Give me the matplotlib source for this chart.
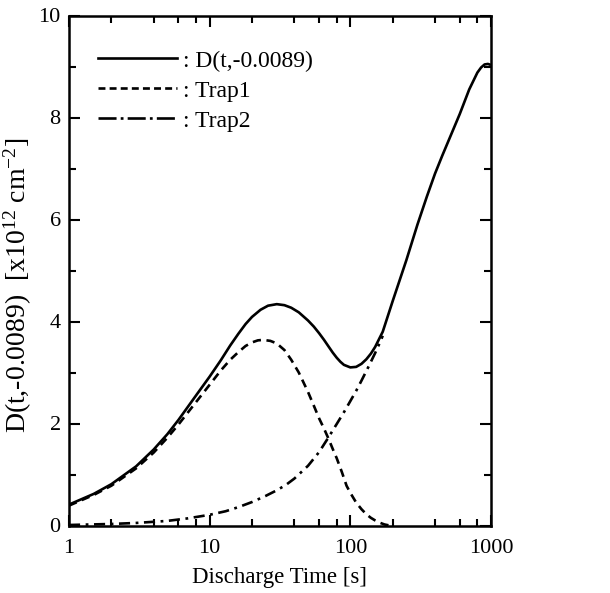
import matplotlib
matplotlib.use("Agg")
import matplotlib.pyplot as plt
from matplotlib.lines import Line2D
from matplotlib.ticker import FixedLocator, NullFormatter

plt.rcParams['font.family'] = ['Liberation Serif', 'DejaVu Serif']
plt.rcParams['mathtext.fontset'] = 'custom'
plt.rcParams['mathtext.rm'] = 'Liberation Serif'
plt.rcParams['mathtext.it'] = 'Liberation Serif:italic'
plt.rcParams['lines.scale_dashes'] = False

# ---- data ----
t_total = [1, 1.5, 2, 3, 4, 5, 6, 8, 10, 12, 14, 16, 18, 20, 23, 26, 30, 34, 38, 43,
           50, 55, 60, 65, 70, 75, 80, 85, 90, 100, 110, 120, 130, 140, 150, 170, 200,
           250, 300, 350, 400, 450, 500, 600, 700, 800, 850, 900, 950, 1000]
d_total = [0.41, 0.62, 0.81, 1.16, 1.49, 1.79, 2.07, 2.55, 2.92, 3.24, 3.53, 3.76, 3.95,
           4.09, 4.23, 4.31, 4.34, 4.32, 4.27, 4.18, 4.02, 3.90, 3.77, 3.64, 3.51, 3.39,
           3.29, 3.21, 3.15, 3.10, 3.11, 3.17, 3.26, 3.37, 3.50, 3.80, 4.40, 5.20, 5.90,
           6.45, 6.90, 7.25, 7.55, 8.07, 8.55, 8.88, 8.98, 9.04, 9.05, 9.03]

t_trap1 = [1, 1.5, 2, 3, 4, 5, 6, 8, 10, 12, 14, 16, 18, 20, 22, 24, 27, 30, 34, 38,
           43, 50, 55, 60, 65, 70, 75, 80, 87, 94, 100, 110, 120, 130, 140, 150, 160,
           175, 190, 200]
d_trap1 = [0.39, 0.60, 0.78, 1.12, 1.43, 1.72, 1.98, 2.42, 2.76, 3.04, 3.25, 3.40, 3.52,
           3.59, 3.63, 3.64, 3.62, 3.57, 3.44, 3.25, 3.00, 2.62, 2.35, 2.10, 1.90, 1.70,
           1.50, 1.32, 1.05, 0.78, 0.64, 0.45, 0.32, 0.22, 0.15, 0.10, 0.06, 0.02, 0.0, 0.0]

t_trap2 = [1, 2, 3, 5, 7, 10, 13, 16, 20, 25, 30, 35, 40, 50, 60, 70, 80, 90, 100, 110,
           120, 135, 150, 163, 170]
d_trap2 = [0.01, 0.03, 0.05, 0.09, 0.14, 0.21, 0.28, 0.36, 0.46, 0.58, 0.69, 0.80, 0.92,
           1.17, 1.44, 1.73, 1.99, 2.22, 2.44, 2.64, 2.84, 3.12, 3.38, 3.60, 3.72]

labels = [': D(t,-0.0089)', ': Trap1', ': Trap2']
xticks = [1, 10, 100, 1000]
xtick_labels = ['1', '10', '100', '1000']
yticks = [0, 2, 4, 6, 8, 10]

fig = plt.figure(figsize=(6.10, 5.93), dpi=100)
ax = fig.add_axes([69/610, 1-525.5/593, 422/610, 510/593])

lw = 1.9
ax.plot(t_total, d_total, color='black', lw=lw, solid_capstyle='butt')
ax.plot(t_trap1, d_trap1, color='black', lw=lw, linestyle=(0, (6, 4)))
ax.plot(t_trap2, d_trap2, color='black', lw=lw, linestyle=(0, (8, 4, 2, 4)))

ax.set_xscale('log')
ax.set_xlim(1, 1000)
ax.set_ylim(0, 10)
ax.xaxis.set_major_locator(FixedLocator(xticks))
ax.set_xticklabels(xtick_labels)
minors = [m * 10**e for e in range(0, 3) for m in (2, 4, 6, 8)]
ax.xaxis.set_minor_locator(FixedLocator(minors))
ax.xaxis.set_minor_formatter(NullFormatter())
ax.set_yticks(yticks)
ax.set_yticks([1, 3, 5, 7, 9], minor=True)

ax.tick_params(which='both', direction='in', top=True, right=True, labelsize=16, width=1.5)
ax.tick_params(which='major', length=8)
ax.tick_params(axis='x', which='major', pad=10)
ax.tick_params(axis='y', which='major', pad=6)
ax.tick_params(which='minor', length=5)
for s in ax.spines.values():
    s.set_linewidth(1.8)

ax.set_xlabel('Discharge Time [s]', fontsize=16.5, labelpad=6)
ax.set_ylabel(r'D(t,-0.0089)  [x10$^{12}$ cm$^{-2}$]', fontsize=20)
ax.yaxis.set_label_coords(-0.083, 0.47)

handles = [
    Line2D([], [], color='black', lw=lw),
    Line2D([], [], color='black', lw=lw, linestyle=(0, (5, 3))),
    Line2D([], [], color='black', lw=lw, linestyle=(0, (13, 3, 2, 3))),
]
ax.legend(handles, labels, loc='upper left', bbox_to_anchor=(0.069, 0.932),
          frameon=False, fontsize=17, handlelength=3.35, handletextpad=0.25,
          labelspacing=0.36, borderpad=0, borderaxespad=0)

fig.savefig('out.png', dpi=100)
